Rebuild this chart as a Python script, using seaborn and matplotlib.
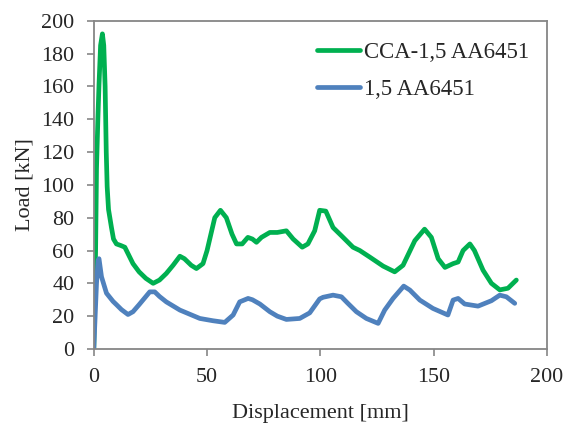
import numpy as np
import pandas as pd
import seaborn as sns
import matplotlib
matplotlib.use("Agg")
import matplotlib.pyplot as plt

# Load-displacement curves
cca_disp = [0, 0.8, 1.2, 1.8, 2.3, 3.0, 3.8, 4.4, 5.0, 5.5, 5.9, 6.5, 7.8, 8.7, 10, 12, 13.7,
            15.5, 17.3, 20, 23, 26.2, 29, 32, 35, 38, 40, 43, 45.3, 48.2, 50, 53.4, 55.9,
            58.5, 61, 63, 65.5, 68, 70, 71.8, 74, 77.7, 81, 85, 88, 92, 94.5, 97.5, 99.7,
            102.4, 105.6, 109.3, 114.4, 117.4, 121.8, 127.7, 132.8, 136.5, 141.7, 146, 149,
            152, 155, 158.6, 160.8, 163, 166, 168, 171.8, 175.5, 179.2, 182.8, 186.5]
cca_load = [0, 60, 110, 140, 161, 185, 192, 185, 160, 120, 99, 85, 74, 67, 64, 63, 62,
            57, 52, 47, 43, 40, 42, 46, 51, 56.5, 55, 51, 49, 52, 60, 80, 84.5,
            80, 70, 64, 64, 68, 67, 65, 68, 71, 71, 72, 67, 62, 64, 72, 84.5,
            84, 74, 69, 62, 60, 56, 50.5, 47, 51, 66, 73, 68,
            55, 49.7, 52, 53, 60, 64, 60, 48, 40, 36, 37, 42]

ref_disp = [0, 0.6, 1.2, 1.9, 2.3, 3.4, 5.6, 8.5, 10, 12.2, 15.1, 17.3, 20, 24.7, 26.9, 29,
            32, 38, 46.8, 52.6, 57.8, 61.5, 64.4, 68.1, 70, 73.3, 77.7, 81, 85, 90.9, 95.3,
            99.7, 101.2, 105.6, 109.3, 112, 115.9, 120.3, 125.5, 128.4, 132.1, 136.8, 139.5,
            143.9, 149.7, 156.3, 158.6, 160.8, 163.7, 169.6, 175.5, 179.2, 182.1, 185.8]
ref_load = [0, 20, 40, 54, 55, 44, 34, 29, 27, 24, 21, 22.7, 27, 34.8, 34.8, 32,
            28.7, 23.7, 18.6, 17.2, 16.2, 20.7, 28.7, 30.8, 30, 27.4, 22.7, 20, 18, 18.6, 22,
            30.5, 31.5, 32.8, 31.8, 28, 22.7, 18.6, 15.6, 23.7, 30.8, 38.3, 35.9,
            29.8, 24.7, 20.7, 29.8, 30.8, 27.4, 26.1, 29.4, 32.8, 31.8, 27.8]

series_names = ["CCA-1,5 AA6451", "1,5 AA6451"]
series_colors = ["#00B050", "#4F81BD"]

df = pd.concat([
    pd.DataFrame({"disp": cca_disp, "load": cca_load, "series": series_names[0]}),
    pd.DataFrame({"disp": ref_disp, "load": ref_load, "series": series_names[1]}),
], ignore_index=True)

sns.set_style("white")
plt.rcParams["font.family"] = ["Liberation Serif", "DejaVu Serif"]

fig = plt.figure(figsize=(5.65, 4.23), dpi=100)
ax = fig.add_axes([0.166, 0.175, 0.802, 0.776])

sns.lineplot(data=df, x="disp", y="load", hue="series", hue_order=series_names,
             palette=series_colors, sort=False, estimator=None, linewidth=3.4, ax=ax)

ax.set_xlim(0, 200)
ax.set_ylim(0, 200)
ax.set_xticks(np.arange(0, 201, 50))
ax.set_yticks(np.arange(0, 201, 20))
ax.set_xlabel("Displacement [mm]", fontsize=16, labelpad=12)
ax.set_ylabel("Load [kN]", fontsize=16, labelpad=5)
ax.tick_params(axis="both", labelsize=15.8, direction="out", length=5, width=1.2,
               color="#868686", bottom=True, left=True, pad=9)

for side in ["left", "right", "top", "bottom"]:
    ax.spines[side].set_visible(True)
    ax.spines[side].set_color("#868686")
    ax.spines[side].set_linewidth(1.3)

leg = ax.legend(loc="upper right", frameon=False, fontsize=16.4, handlelength=1.9,
                handletextpad=0.15, labelspacing=0.72, borderaxespad=0.3,
                bbox_to_anchor=(0.995, 0.985))
for line in leg.get_lines():
    line.set_linewidth(3.4)

fig.savefig("out.png", dpi=100, facecolor="white")
